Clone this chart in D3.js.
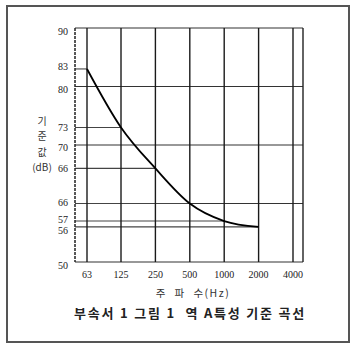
<!DOCTYPE html>
<html>
<head>
<meta charset="utf-8">
<script src="https://cdn.jsdelivr.net/npm/d3@7"></script>
<style>
  body { margin: 0; background: #fff; }
</style>
</head>
<body>
<script>
// data
var freqs = [63, 125, 250, 500, 1000, 2000];
var levels = [83, 73, 66, 60, 57, 56];
var xTicks = [63, 125, 250, 500, 1000, 2000, 4000];
var xTickLabels = ["63", "125", "250", "500", "1000", "2000", "4000"];
var yTicks = [90, 83, 80, 73, 70, 66, 60, 57, 56, 50];
var yTickLabels = ["90", "83", "80", "73", "70", "66", "66", "57", "56", "50"]; // the scan prints 66 at the 60 line
var fullLines = [90, 80, 70, 60, 50];

var width = 356,
    height = 348;

// plot box
var boxLeft = 75, boxRight = 303, boxTop = 28, boxBottom = 262;

// labels that are nudged off their line in the scan
var labelShift = {90: 3, 83: -2, 80: 2.5, 70: 2, 60: -1, 57: -1.5, 56: 4, 50: 3};

var x = d3.scaleLog().base(2)
    .domain([63, 4000])
    .range([87, 293]);

var y = d3.scaleLinear()
    .domain([50, 90])
    .range([boxBottom, boxTop]);

var svg = d3.select("body").append("svg")
    .attr("width", width)
    .attr("height", height);

//outer frame
svg.append("rect")
    .attr("x", 7).attr("y", 6)
    .attr("width", 342).attr("height", 336)
    .attr("fill", "none")
    .attr("stroke", "#555")
    .attr("stroke-width", 2);

var grid = svg.append("g").attr("class", "grid");

//full width horizontal lines
grid.selectAll("line.h")
    .data(fullLines)
    .enter().append("line")
    .attr("class", "h")
    .attr("x1", boxLeft).attr("x2", boxRight)
    .attr("y1", function(d) { return y(d); })
    .attr("y2", function(d) { return y(d); })
    .attr("stroke", "#333")
    .attr("stroke-width", 1.2);

//short lines from the axis to each point of the curve
grid.selectAll("line.p")
    .data(freqs)
    .enter().append("line")
    .attr("class", "p")
    .attr("x1", boxLeft)
    .attr("x2", function(d) { return x(d); })
    .attr("y1", function(d, i) { return y(levels[i]); })
    .attr("y2", function(d, i) { return y(levels[i]); })
    .attr("stroke", "#444")
    .attr("stroke-width", 1.1);

//vertical lines
grid.selectAll("line.v")
    .data(xTicks)
    .enter().append("line")
    .attr("class", "v")
    .attr("x1", function(d) { return x(d); })
    .attr("x2", function(d) { return x(d); })
    .attr("y1", boxTop).attr("y2", boxBottom)
    .attr("stroke", "#1a1a1a")
    .attr("stroke-width", 1.4);

//right border
grid.append("line")
    .attr("x1", boxRight).attr("x2", boxRight)
    .attr("y1", boxTop).attr("y2", boxBottom)
    .attr("stroke", "#222").attr("stroke-width", 1.4);

//left axis, dotted in the scan
grid.append("line")
    .attr("x1", boxLeft).attr("x2", boxLeft)
    .attr("y1", boxTop).attr("y2", boxBottom)
    .attr("stroke", "#222").attr("stroke-width", 1.5)
    .attr("stroke-dasharray", "3,1");

//curve
var line = d3.line()
    .x(function(d) { return x(d[0]); })
    .y(function(d) { return y(d[1]); })
    .curve(d3.curveMonotoneX);

svg.append("path")
    .datum(d3.zip(freqs, levels))
    .attr("d", line)
    .attr("fill", "none")
    .attr("stroke", "#000")
    .attr("stroke-width", 1.8);

//tick labels
var serif = "'Liberation Serif', 'DejaVu Serif', serif";

svg.append("g").selectAll("text")
    .data(yTicks)
    .enter().append("text")
    .attr("x", 68)
    .attr("y", function(d) { return y(d) + (labelShift[d] || 0); })
    .attr("dy", "0.35em")
    .attr("text-anchor", "end")
    .attr("font-family", serif)
    .attr("font-size", 10)
    .attr("fill", "#222")
    .text(function(d, i) { return yTickLabels[i]; });

svg.append("g").selectAll("text")
    .data(xTicks)
    .enter().append("text")
    .attr("x", function(d) { return x(d); })
    .attr("y", 274)
    .attr("dy", "0.35em")
    .attr("text-anchor", "middle")
    .attr("font-family", serif)
    .attr("font-size", 10)
    .attr("fill", "#222")
    .text(function(d, i) { return xTickLabels[i]; });

//y title, stacked
var yTitle = ["기", "준", "값", "(dB)"];
svg.append("g").selectAll("text")
    .data(yTitle)
    .enter().append("text")
    .attr("x", 42)
    .attr("y", function(d, i) { return 121 + i * 15.5; })
    .attr("dy", "0.35em")
    .attr("text-anchor", "middle")
    .attr("font-family", "'Noto Sans CJK KR', serif")
    .attr("font-size", 10)
    .attr("fill", "#333")
    .text(function(d) { return d; });

//x title
svg.append("text")
    .attr("x", 193).attr("y", 293)
    .attr("dy", "0.35em")
    .attr("text-anchor", "middle")
    .attr("font-family", "'Noto Sans CJK KR', serif")
    .attr("font-size", 10.5)
    .attr("letter-spacing", 1.5)
    .attr("fill", "#333")
    .style("white-space", "pre")
    .text("주  파  수(Hz)");

//caption
svg.append("text")
    .attr("x", 190).attr("y", 313)
    .attr("dy", "0.35em")
    .attr("text-anchor", "middle")
    .attr("font-family", "'Noto Sans CJK KR', sans-serif")
    .attr("font-size", 13)
    .attr("font-weight", "bold")
    .attr("letter-spacing", 1.8)
    .attr("fill", "#222")
    .style("white-space", "pre")
    .text("부속서 1 그림 1  역 A특성 기준 곡선");
</script>
</body>
</html>
